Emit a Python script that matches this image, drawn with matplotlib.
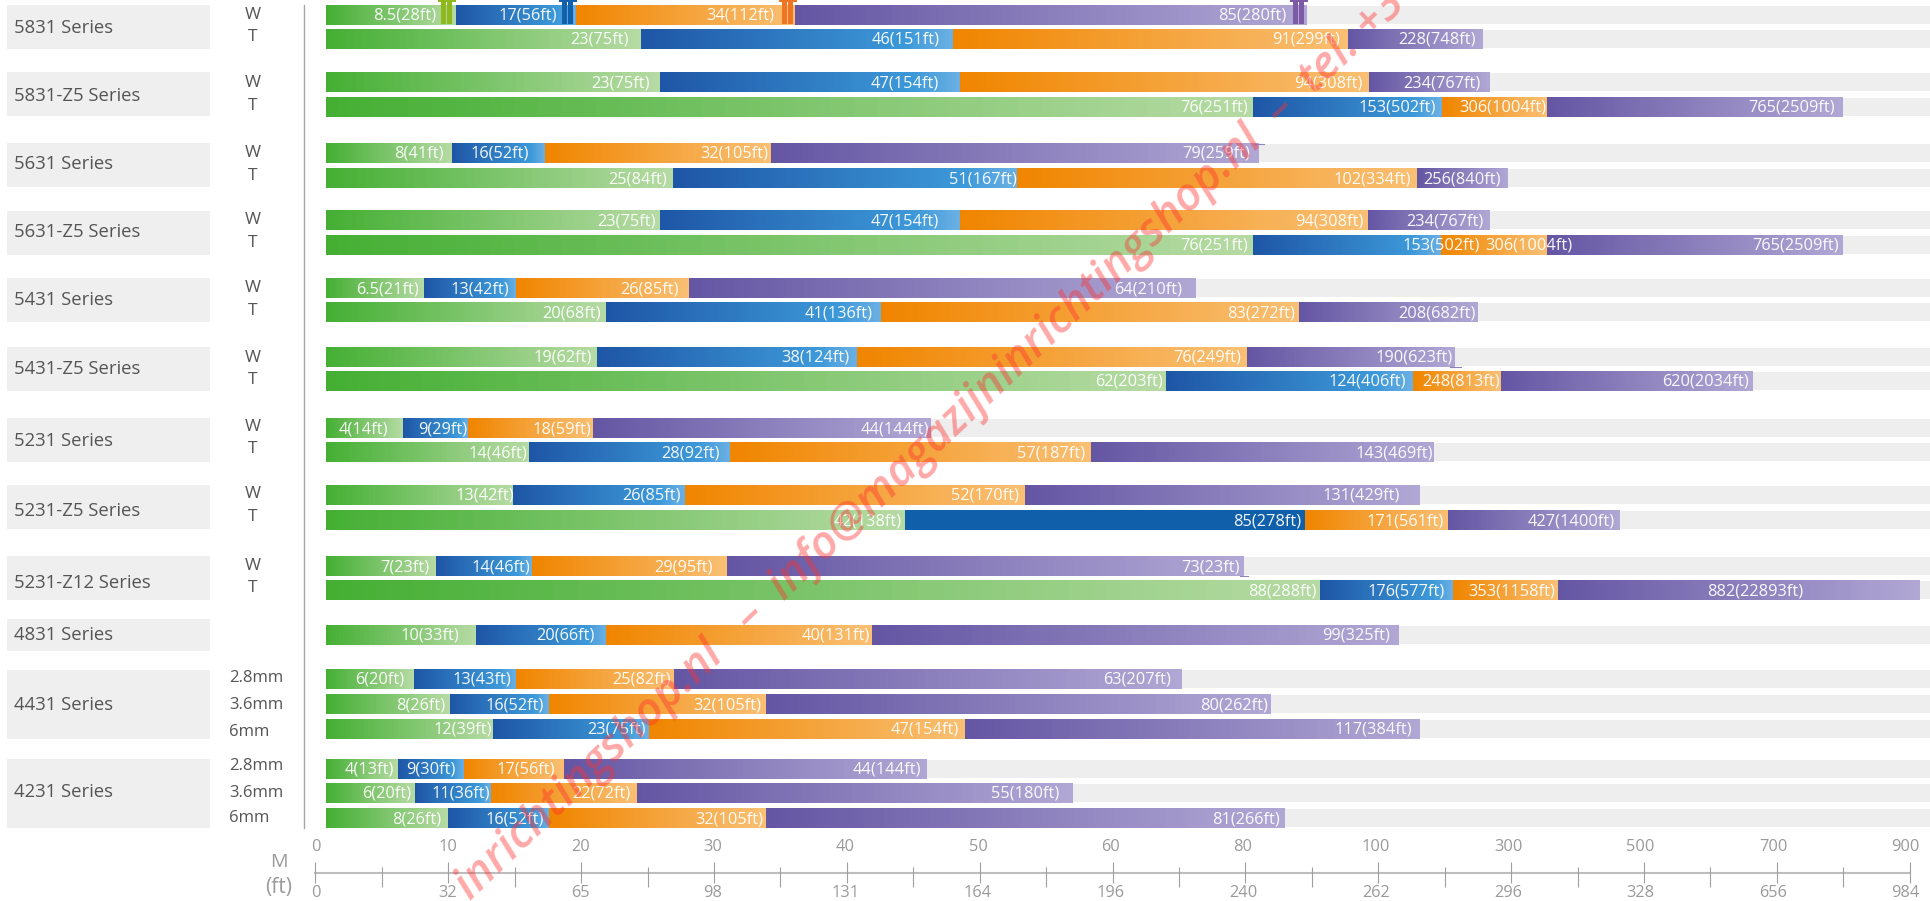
import numpy as np
import matplotlib
matplotlib.use('Agg')
import matplotlib.pyplot as plt
from matplotlib.colors import LinearSegmentedColormap
from matplotlib.patches import Rectangle

plt.rcParams['font.family'] = ['Open Sans', 'DejaVu Sans']

W, H = 1931, 901

series_names = ['5831 Series', '5831-Z5 Series', '5631 Series', '5631-Z5 Series',
                '5431 Series', '5431-Z5 Series', '5231 Series', '5231-Z5 Series',
                '5231-Z12 Series', '4831 Series', '4431 Series', '4231 Series']

row_labels = ['W', 'T', 'W', 'T', 'W', 'T', 'W', 'T', 'W', 'T', 'W', 'T', 'W', 'T', 'W', 'T', 'W', 'T',
              '', '2.8mm', '3.6mm', '6mm', '2.8mm', '3.6mm', '6mm']

# where each colour segment ends
seg_ends = [
    [10.6, 19.6, 36.1, 89.3], [24.5, 48.0, 95.5, 257.9],
    [25.9, 48.5, 98.6, 268.4], [81.1, 196.3, 354.2, 799.4],
    [10.3, 17.3, 34.3, 82.0], [26.9, 52.8, 158.7, 295.5],
    [25.9, 48.5, 98.5, 268.4], [81.1, 194.8, 354.2, 799.4],
    [8.2, 15.1, 28.1, 72.6], [21.9, 42.6, 88.1, 250.4],
    [21.2, 40.8, 80.2, 215.8], [68.0, 152.6, 285.0, 664.0],
    [6.6, 11.5, 20.9, 46.3], [16.1, 31.2, 58.4, 184.2],
    [14.9, 27.8, 53.4, 163.2], [44.4, 89.0, 205.3, 464.0],
    [9.1, 16.3, 31.0, 79.8], [91.3, 212.8, 370.7, 915.2],
    [12.1, 21.9, 41.9, 131.6],
    [7.4, 15.1, 27.0, 70.4], [10.1, 17.6, 33.9, 83.9], [13.4, 25.1, 48.9, 163.2],
    [6.2, 11.2, 18.7, 46.0], [7.5, 13.2, 24.2, 57.0], [10.0, 17.6, 33.9, 85.9],
]
seg_text = [
    ['8.5(28ft)', '17(56ft)', '34(112ft)', '85(280ft)'], ['23(75ft)', '46(151ft)', '91(299ft)', '228(748ft)'],
    ['23(75ft)', '47(154ft)', '94(308ft)', '234(767ft)'], ['76(251ft)', '153(502ft)', '306(1004ft)', '765(2509ft)'],
    ['8(41ft)', '16(52ft)', '32(105ft)', '79(259ft)'], ['25(84ft)', '51(167ft)', '102(334ft)', '256(840ft)'],
    ['23(75ft)', '47(154ft)', '94(308ft)', '234(767ft)'], ['76(251ft)', '153(502ft)', '306(1004ft)', '765(2509ft)'],
    ['6.5(21ft)', '13(42ft)', '26(85ft)', '64(210ft)'], ['20(68ft)', '41(136ft)', '83(272ft)', '208(682ft)'],
    ['19(62ft)', '38(124ft)', '76(249ft)', '190(623ft)'], ['62(203ft)', '124(406ft)', '248(813ft)', '620(2034ft)'],
    ['4(14ft)', '9(29ft)', '18(59ft)', '44(144ft)'], ['14(46ft)', '28(92ft)', '57(187ft)', '143(469ft)'],
    ['13(42ft)', '26(85ft)', '52(170ft)', '131(429ft)'], ['42(138ft)', '85(278ft)', '171(561ft)', '427(1400ft)'],
    ['7(23ft)', '14(46ft)', '29(95ft)', '73(23ft)'], ['88(288ft)', '176(577ft)', '353(1158ft)', '882(22893ft)'],
    ['10(33ft)', '20(66ft)', '40(131ft)', '99(325ft)'],
    ['6(20ft)', '13(43ft)', '25(82ft)', '63(207ft)'], ['8(26ft)', '16(52ft)', '32(105ft)', '80(262ft)'],
    ['12(39ft)', '23(75ft)', '47(154ft)', '117(384ft)'],
    ['4(13ft)', '9(30ft)', '17(56ft)', '44(144ft)'], ['6(20ft)', '11(36ft)', '22(72ft)', '55(180ft)'],
    ['8(26ft)', '16(52ft)', '32(105ft)', '81(266ft)'],
]

m_ticks = [0, 10, 20, 30, 40, 50, 60, 80, 100, 300, 500, 700, 900]
ft_labels = ['0', '32', '65', '98', '131', '164', '196', '240', '262', '296', '328', '656', '984']
minor_ticks = [5, 15, 25, 35, 45, 55, 70, 90, 200, 400, 600, 800]

# layout, in pixels of the reference
bar_start = 0.8
row_top = [5, 29, 72, 97, 143, 168, 210, 235, 278, 302, 347, 371, 418, 442, 485, 510, 556, 580,
           625, 669, 694, 719, 759, 783, 808]
box_span = [(5, 49), (72, 116), (143, 187), (211, 255), (278, 322), (347, 391), (418, 462),
            (485, 529), (556, 600), (619, 651), (670, 739), (759, 828)]
name_y = [28, 96, 164, 232, 300, 369, 441, 511, 583, 635, 705, 792]
row_label_y = [15, 37, 83, 106, 153, 176, 220, 243, 288, 311, 358, 380, 427, 449, 494, 517, 566, 588,
               635, 678, 705, 732, 766, 793, 818]
# how far each label's right end sits from its segment end
label_shift = [
    [-20, -19, -21, -21], [-12, -14, -8, -7], [-10, -21, -6, -10], [-5, -6, -1, -8],
    [-9, -16, -3, -9], [-6, 0, -6, -7], [-4, -21, -5, -7], [-5, 39, 25, -4],
    [-5, -7, -10, -14], [-5, -9, -4, -3], [-5, -8, -6, -2], [-3, -7, -1, -4],
    [-15, -1, -2, -1], [-2, -10, -6, -1], [1, -4, -6, -20], [-4, -4, -5, -5],
    [-7, -2, -15, -4], [-4, -8, -3, -117], [-17, -12, -2, -9],
    [-9, -5, -3, -11], [-4, -5, -4, -3], [-1, -3, -6, -8],
    [-4, -9, -9, -5], [-4, -1, -6, -13], [-7, -5, -2, -5],
]

# M axis is stretched in three steps: 10 per tick, 20 per tick, 200 per tick
scale_vals = [0, 60, 100, 900, 1100]
scale_pos = [0, 6, 8, 12, 13]


def to_pos(v):
    return np.interp(v, scale_vals, scale_pos)


def to_val(p):
    return np.interp(p, scale_pos, scale_vals)


ramps = [
    LinearSegmentedColormap.from_list('green', ['#45af34', '#b5daa3']),
    LinearSegmentedColormap.from_list('blue', [(0, '#1e56a6'), (0.85, '#3c98d8'), (1, '#69afe3')]),
    LinearSegmentedColormap.from_list('orange', ['#f08500', '#f9bf72']),
    LinearSegmentedColormap.from_list('purple', ['#6456a3', '#b1a7d4']),
]
solid_blue = LinearSegmentedColormap.from_list('solid', ['#105fab', '#105fab'])

fig = plt.figure(figsize=(W / 100, H / 100), dpi=100)

left = 315.4 / W
ax = fig.add_axes([left, 0, 1 - left, 1])
ax.set_xscale('function', functions=(to_pos, to_val))
ax.set_xlim(0, 932)
ax.set_ylim(H, 0)
ax.axis('off')

# px holds everything that is not on the M scale
px = fig.add_axes([0, 0, 1, 1], zorder=5)
px.set_xlim(0, W)
px.set_ylim(H, 0)
px.axis('off')
px.patch.set_alpha(0)

for i, top in enumerate(row_top):
    ax.barh(top + 10, 932 - bar_start, left=bar_start, height=18, color='#eeeeee', zorder=1)
    start = bar_start
    for j, end in enumerate(seg_ends[i]):
        cmap = solid_blue if (i == 15 and j == 1) else ramps[j]
        edges = to_val(np.linspace(to_pos(start), to_pos(end), 80))
        grad = np.linspace(0, 1, 79).reshape(1, -1)
        ax.pcolormesh(edges, [top, top + 20], grad, cmap=cmap, vmin=0, vmax=1, zorder=2)
        ax.annotate(seg_text[i][j], (end, top + 10), xytext=(label_shift[i][j], -1),
                    textcoords='offset pixels', ha='right', va='center',
                    color='white', alpha=0.95, fontsize=11.8, zorder=3)
        start = end
    wt = row_labels[i] in ('W', 'T')
    px.text(253 if wt else 229, row_label_y[i], row_labels[i], ha='center' if wt else 'left', va='center',
            color='#555555', fontsize=12.5 if wt else 12)

for name, (y0, y1), y in zip(series_names, box_span, name_y):
    px.add_patch(Rectangle((7, y0), 203, y1 - y0, color='#efefef', lw=0, zorder=0))
    px.text(14.5, y, name, va='center', ha='left', color='#555555', fontsize=13.3)

px.plot([304.5, 304.5], [5, 828], color='#a6a6a6', lw=1)

# thin leftovers past the purple bars in the original
for x0, x1, y in [(1255, 1264, 143.5), (1450, 1461, 366.5), (1240, 1248, 575.5)]:
    px.plot([x0, x1], [y, y], color='#8f83bd', lw=0.8)

# small people standing on the first row
for cx, col in [(447, '#8fb81c'), (568, '#1060ac'), (788, '#f07522'), (1299, '#7d5aa5')]:
    px.add_patch(Rectangle((cx - 5.5, 0), 4.5, 24, color=col, lw=0))
    px.add_patch(Rectangle((cx + 0.5, 0), 4.5, 24, color=col, lw=0))
    px.add_patch(Rectangle((cx - 9, 0), 18, 2, color=col, lw=0))

# the scale at the bottom
ax.plot([0, 900], [873, 873], color='#bdbdbd', lw=1.5, clip_on=False, zorder=2)
ax.vlines(m_ticks, 861.7, 883, color='#a0a0a0', lw=0.8, clip_on=False, zorder=3)
ax.vlines(minor_ticks, 866.7, 886.7, color='#a0a0a0', lw=0.8, zorder=3)
for v, ft in zip(m_ticks, ft_labels):
    shift = -float(to_pos(v)) / 3
    ax.annotate(str(v), (v, 847), xytext=(shift, 0), textcoords='offset pixels', ha='center', va='center',
                color='#9a9a9a', fontsize=11.8, annotation_clip=False)
    ax.annotate(ft, (v, 893), xytext=(shift, 0), textcoords='offset pixels', ha='center', va='center',
                color='#9a9a9a', fontsize=11.8, annotation_clip=False)
px.text(279, 862, 'M', ha='center', va='center', color='#9a9a9a', fontsize=14)
px.text(279, 888, '(ft)', ha='center', va='center', color='#9a9a9a', fontsize=15)

# watermark across the whole picture
px.text(470, 901, 'inrichtingshop.nl   \u2013  info@magazijninrichtingshop.nl  \u2013  tel. +31',
        rotation=43.7, rotation_mode='anchor', ha='left', va='baseline', style='italic', weight='semibold',
        color='#ff3030', alpha=0.42, fontsize=33, zorder=10, clip_on=True)

fig.savefig('out.png', dpi=100)
